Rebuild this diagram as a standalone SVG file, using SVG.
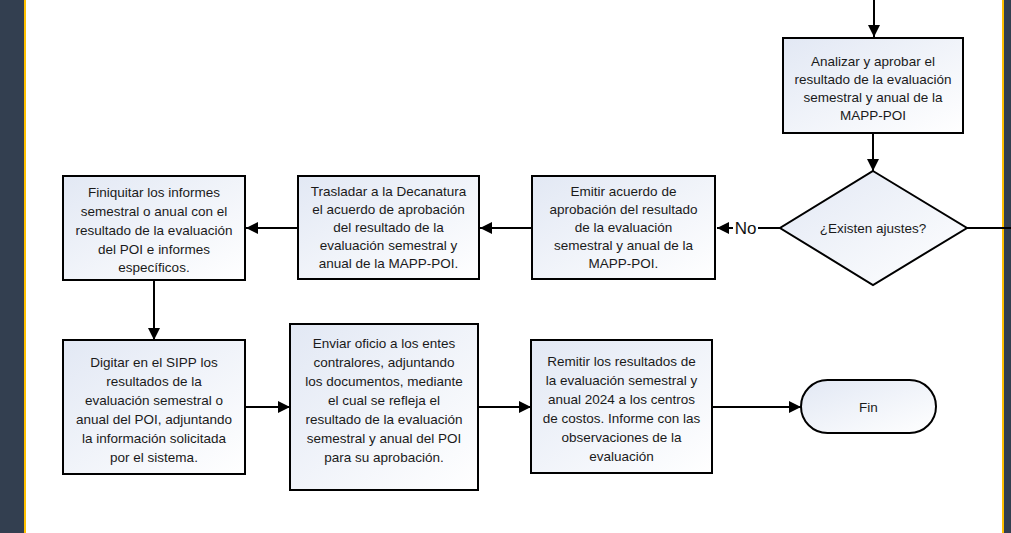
<svg xmlns="http://www.w3.org/2000/svg" width="1011" height="533" viewBox="0 0 1011 533">
<defs>
<linearGradient id="g" x1="0" y1="0" x2="1" y2="1">
<stop offset="0" stop-color="#e2e8f4"/>
<stop offset="1" stop-color="#ffffff"/>
</linearGradient>
<marker id="arr" viewBox="0 0 12 12" refX="12" refY="6" markerWidth="12" markerHeight="12" markerUnits="userSpaceOnUse" orient="auto">
<path d="M0,0 L12,6 L0,12 Z" fill="#000"/>
</marker>
<style>
.n{fill:url(#g);stroke:#000;stroke-width:2}
.t{font-family:"Liberation Sans",Arial,sans-serif;font-size:13.5px;fill:#1a1a1a;text-anchor:middle}
.c{fill:none;stroke:#000;stroke-width:2}
</style>
</defs>
<rect x="0" y="0" width="1011" height="533" fill="#ffffff"/>
<rect x="0" y="0" width="24" height="533" fill="#333f50"/>
<rect x="24" y="0" width="2" height="533" fill="#ffc000"/>
<rect x="1002" y="0" width="2" height="533" fill="#ffc000"/>
<rect x="1004" y="0" width="7" height="533" fill="#333f50"/>

<g id="connectors">
<line class="c" x1="874" y1="0" x2="874" y2="37" marker-end="url(#arr)"/>
<line class="c" x1="873" y1="133" x2="873" y2="171" marker-end="url(#arr)"/>
<line class="c" x1="967" y1="228" x2="1011" y2="228"/>
<line class="c" x1="780" y1="228" x2="717" y2="228" marker-end="url(#arr)"/>
<line class="c" x1="532" y1="228" x2="480" y2="228" marker-end="url(#arr)"/>
<line class="c" x1="298" y1="228" x2="246" y2="228" marker-end="url(#arr)"/>
<line class="c" x1="154" y1="280" x2="154" y2="340" marker-end="url(#arr)"/>
<line class="c" x1="245" y1="407" x2="290" y2="407" marker-end="url(#arr)"/>
<line class="c" x1="478" y1="407" x2="531" y2="407" marker-end="url(#arr)"/>
<line class="c" x1="712" y1="407" x2="801" y2="407" marker-end="url(#arr)"/>
<rect x="733" y="219" width="25" height="18" fill="#ffffff"/>
<text x="745.5" y="234" style="font-family:'Liberation Sans',Arial,sans-serif;font-size:17px;fill:#111;text-anchor:middle">No</text>
</g>

<g id="analizar">
<rect class="n" x="783" y="38" width="180" height="95"/>
<text class="t"><tspan x="873" y="66">Analizar y aprobar el</tspan><tspan x="873" y="84">resultado de la evaluación</tspan><tspan x="873" y="102">semestral y anual de la</tspan><tspan x="873" y="120">MAPP-POI</tspan></text>
</g>

<g id="decision">
<polygon class="n" points="873,171 967,228 873,285 780,228"/>
<text class="t" x="873" y="233">¿Existen ajustes?</text>
</g>

<g id="emitir">
<rect class="n" x="532" y="176" width="183" height="103"/>
<text class="t"><tspan x="623.5" y="196">Emitir acuerdo de</tspan><tspan x="623.5" y="214">aprobación del resultado</tspan><tspan x="623.5" y="232">de la evaluación</tspan><tspan x="623.5" y="250">semestral y anual de la</tspan><tspan x="623.5" y="268">MAPP-POI.</tspan></text>
</g>

<g id="trasladar">
<rect class="n" x="298" y="176" width="181" height="103"/>
<text class="t"><tspan x="388.5" y="196">Trasladar a la Decanatura</tspan><tspan x="388.5" y="214">el acuerdo de aprobación</tspan><tspan x="388.5" y="232">del resultado de la</tspan><tspan x="388.5" y="250">evaluación semestral y</tspan><tspan x="388.5" y="268">anual de la MAPP-POI.</tspan></text>
</g>

<g id="finiquitar">
<rect class="n" x="63" y="176" width="182" height="104"/>
<text class="t"><tspan x="154" y="197">Finiquitar los informes</tspan><tspan x="154" y="216">semestral o anual con el</tspan><tspan x="154" y="235">resultado de la evaluación</tspan><tspan x="154" y="254">del POI e informes</tspan><tspan x="154" y="272">específicos.</tspan></text>
</g>

<g id="digitar">
<rect class="n" x="63" y="340" width="182" height="134"/>
<text class="t"><tspan x="154" y="367">Digitar en el SIPP los</tspan><tspan x="154" y="386">resultados de la</tspan><tspan x="154" y="405">evaluación semestral o</tspan><tspan x="154" y="424">anual del POI, adjuntando</tspan><tspan x="154" y="443">la información solicitada</tspan><tspan x="154" y="462">por el sistema.</tspan></text>
</g>

<g id="enviar">
<rect class="n" x="290" y="324" width="188" height="166"/>
<text class="t"><tspan x="384" y="348">Enviar oficio a los entes</tspan><tspan x="384" y="367">contralores, adjuntando</tspan><tspan x="384" y="386">los documentos, mediante</tspan><tspan x="384" y="405">el cual se refleja el</tspan><tspan x="384" y="424">resultado de la evaluación</tspan><tspan x="384" y="443">semestral y anual del POI</tspan><tspan x="384" y="462">para su aprobación.</tspan></text>
</g>

<g id="remitir">
<rect class="n" x="531" y="340" width="181" height="133"/>
<text class="t"><tspan x="621.5" y="366">Remitir los resultados de</tspan><tspan x="621.5" y="385">la evaluación semestral y</tspan><tspan x="621.5" y="404">anual 2024 a los centros</tspan><tspan x="621.5" y="423">de costos. Informe con las</tspan><tspan x="621.5" y="442">observaciones de la</tspan><tspan x="621.5" y="461">evaluación</tspan></text>
</g>

<g id="fin">
<rect class="n" x="801" y="380" width="135" height="53" rx="26.5" ry="26.5"/>
<text class="t" x="868.5" y="412">Fin</text>
</g>
</svg>
